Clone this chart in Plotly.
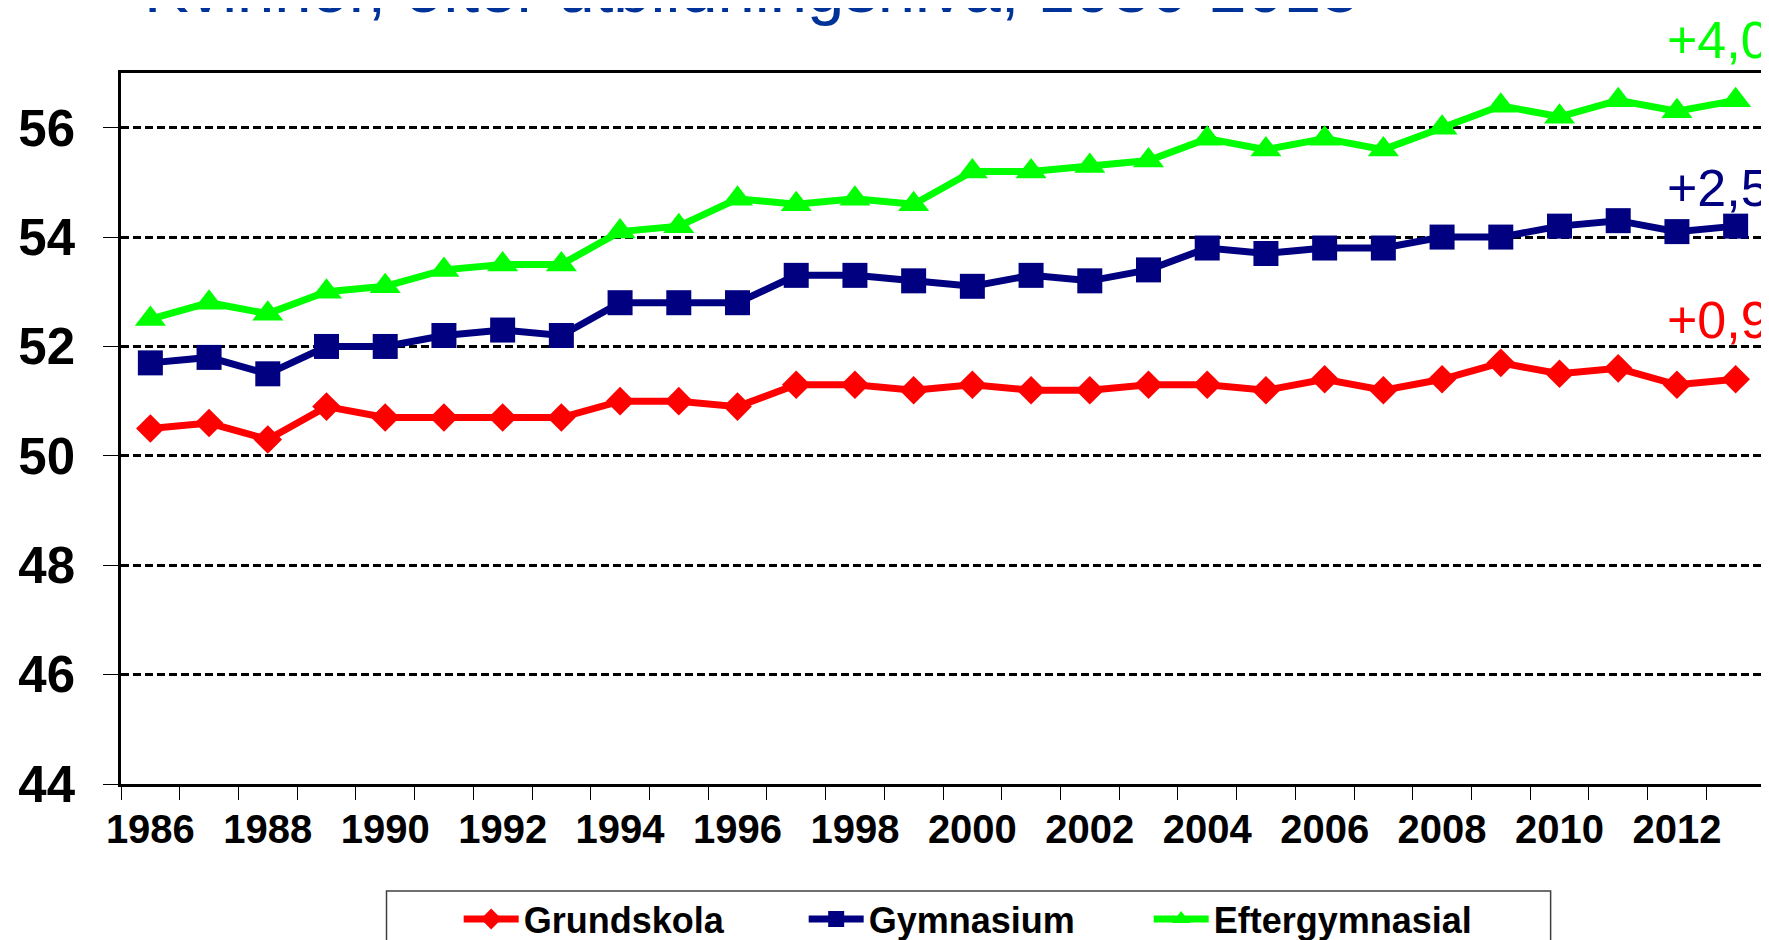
import plotly.graph_objects as go

years = list(range(1986, 2014))
grundskola = [50.5, 50.6, 50.3, 50.9, 50.7, 50.7, 50.7, 50.7, 51.0, 51.0, 50.9, 51.3, 51.3, 51.2,
              51.3, 51.2, 51.2, 51.3, 51.3, 51.2, 51.4, 51.2, 51.4, 51.7, 51.5, 51.6, 51.3, 51.4]
gymnasium = [51.7, 51.8, 51.5, 52.0, 52.0, 52.2, 52.3, 52.2, 52.8, 52.8, 52.8, 53.3, 53.3, 53.2,
             53.1, 53.3, 53.2, 53.4, 53.8, 53.7, 53.8, 53.8, 54.0, 54.0, 54.2, 54.3, 54.1, 54.2]
eftergymnasial = [52.5, 52.8, 52.6, 53.0, 53.1, 53.4, 53.5, 53.5, 54.1, 54.2, 54.7, 54.6, 54.7, 54.6,
                  55.2, 55.2, 55.3, 55.4, 55.8, 55.6, 55.8, 55.6, 56.0, 56.4, 56.2, 56.5, 56.3, 56.5]
series_names = ["Grundskola", "Gymnasium", "Eftergymnasial"]
change_labels = ["+0,9", "+2,5", "+4,0"]
x_tick_years = list(range(1986, 2013, 2))
y_ticks = [44, 46, 48, 50, 52, 54, 56]
title_text = "Kvinnor, efter utbildningsnivå, 1986-2013"

colors = ["#FF0000", "#000080", "#00FF00"]
symbols = ["diamond", "square", "triangle-up"]
sizes = [22, 25, 27]
all_values = [grundskola, gymnasium, eftergymnasial]

fig = go.Figure()
for name, vals, c, s, sz in zip(series_names, all_values, colors, symbols, sizes):
    fig.add_trace(go.Scatter(
        x=years, y=vals, name=name, mode="lines+markers",
        line=dict(color=c, width=7),
        marker=dict(color=c, symbol=s, size=sz, line=dict(width=0)),
    ))

# change annotations (paper coords)
ann_y = [0.609, 0.7947, 1.0028]
annotations = []
for txt, c, yv in zip(change_labels, colors, ann_y):
    annotations.append(dict(
        text=txt, xref="paper", yref="paper", x=0.939, y=yv,
        xanchor="left", yanchor="bottom", showarrow=False,
        font=dict(family="Liberation Sans, Arial, sans-serif", size=52, color=c),
    ))
annotations.append(dict(
    text=title_text, xref="paper", yref="paper", x=0.0128, y=1.063,
    xanchor="left", yanchor="bottom", showarrow=False,
    font=dict(family="Liberation Sans, Arial, sans-serif", size=67, color="#003399"),
))

fig.update_layout(
    width=1769, height=940,
    margin=dict(l=113, r=12, t=65, b=164, autoexpand=False),
    paper_bgcolor="white", plot_bgcolor="white",
    showlegend=True,
    legend=dict(
        orientation="h", x=0.2054, xanchor="left", y=-0.19, yanchor="middle",
        font=dict(family="Liberation Sans, Arial, sans-serif", size=36, color="black", weight="bold"),
        itemwidth=55, entrywidth=275, entrywidthmode="pixels",
        bgcolor="rgba(0,0,0,0)", borderwidth=0,
    ),
    annotations=annotations,
    shapes=[dict(type="rect", xref="paper", yref="paper",
                 x0=0.1615, x1=0.8696, y0=-0.1505, y1=-0.26,
                 line=dict(color="#404040", width=1.5), fillcolor="rgba(0,0,0,0)", layer="below")],
)

fig.update_xaxes(
    range=[1985.5, 2013.5], tickmode="array", tickvals=x_tick_years,
    ticktext=[str(y) for y in x_tick_years], ticks="", showgrid=False, zeroline=False,
    showline=True, linecolor="black", linewidth=2.5, mirror=True, automargin=False,
    tickfont=dict(family="Liberation Sans, Arial, sans-serif", size=40, color="black", weight="bold"),
    ticklabelstandoff=8,
    minor=dict(tickmode="array", tickvals=[y - 0.5 for y in years] + [2013.5],
               ticks="outside", ticklen=13, tickwidth=1, tickcolor="black", showgrid=False),
)
fig.update_yaxes(
    range=[44, 57], tickmode="array", tickvals=y_ticks, ticktext=[str(v) for v in y_ticks],
    ticks="outside", ticklen=15, tickwidth=1, tickcolor="black",
    showgrid=True, gridcolor="black", gridwidth=2.5, griddash="8px,4px", zeroline=False,
    showline=True, linecolor="black", linewidth=2.5, mirror=True, automargin=False,
    tickfont=dict(family="Liberation Sans, Arial, sans-serif", size=51, color="black", weight="bold"),
    ticklabelstandoff=18,
)

fig.write_html("out.html")
